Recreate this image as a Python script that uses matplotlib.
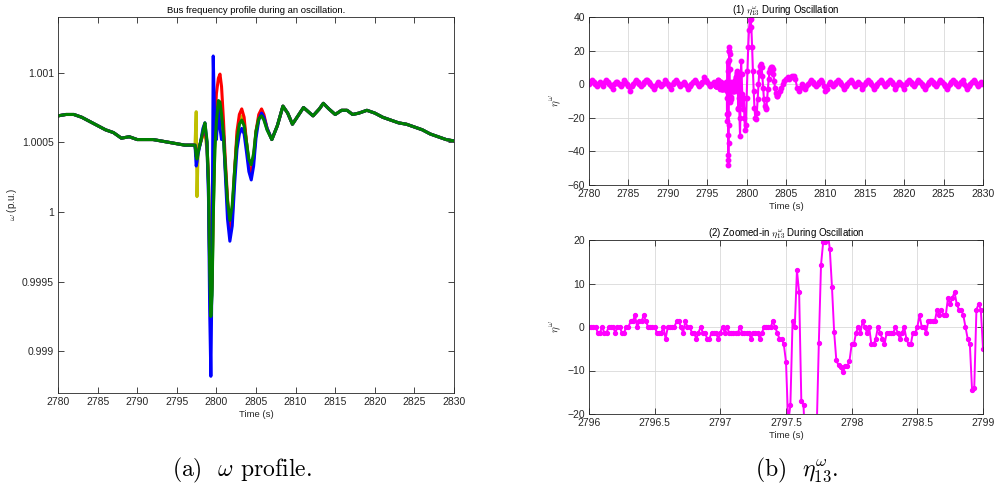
import numpy as np
import matplotlib
matplotlib.use("Agg")
import matplotlib.pyplot as plt
from matplotlib.ticker import FuncFormatter

plt.rcParams['font.family'] = ['Liberation Sans', 'DejaVu Sans']
plt.rcParams['mathtext.fontset'] = 'cm'

# ---------------- datos: perfil de frecuencia (a) ----------------
t_pre = [2780, 2781, 2782, 2783, 2784, 2785, 2786, 2787, 2788, 2789,
         2790, 2791, 2792, 2793, 2794, 2795, 2796, 2797]
w_pre = [1.00069, 1.00070, 1.00070, 1.00068, 1.00065, 1.00062, 1.00059, 1.00057, 1.00053, 1.00054,
         1.00052, 1.00052, 1.00052, 1.00051, 1.00050, 1.00049, 1.00048, 1.00048]

t_win = [2797.3, 2797.45, 2797.55, 2797.7, 2798.0, 2798.3, 2798.55, 2798.8, 2799.0, 2799.15,
         2799.3, 2799.45, 2799.6, 2799.8, 2800.0, 2800.25, 2800.45, 2800.65, 2800.9, 2801.1,
         2801.4, 2801.7, 2802.0, 2802.3, 2802.6, 2802.9, 2803.2, 2803.5, 2803.8, 2804.1,
         2804.4, 2804.7, 2805.0, 2805.35, 2805.7, 2806.0, 2806.4]
w_green = [1.00048, 1.00040, 1.00038, 1.00043, 1.00050, 1.00058, 1.00064, 1.00052, 1.00020, 0.99960,
           0.99925, 0.99940, 0.99995, 1.00045, 1.00065, 1.00080, 1.00079, 1.00070, 1.00055, 1.00035,
           1.00008, 0.99994, 1.00005, 1.00030, 1.00052, 1.00063, 1.00066, 1.00062, 1.00050, 1.00038,
           1.00034, 1.00042, 1.00058, 1.00067, 1.00069, 1.00066, 1.00059]
w_blue = [1.00048, 1.00033, 1.00036, 1.00042, 1.00050, 1.00060, 1.00064, 1.00050, 1.00010, 0.99930,
          0.99882, 0.99960, 1.00112, 1.00060, 1.00052, 1.00076, 1.00060, 1.00052, 1.00055, 1.00030,
          0.99995, 0.99979, 0.99990, 1.00020, 1.00045, 1.00056, 1.00060, 1.00056, 1.00043, 1.00029,
          1.00023, 1.00033, 1.00053, 1.00066, 1.00071, 1.00068, 1.00060]
w_red = [1.00048, 1.00040, 1.00040, 1.00044, 1.00050, 1.00056, 1.00058, 1.00050, 1.00025, 0.99965,
         0.99935, 0.99950, 1.00010, 1.00060, 1.00085, 1.00096, 1.00099, 1.00090, 1.00065, 1.00040,
         1.00010, 0.99988, 0.99998, 1.00030, 1.00058, 1.00070, 1.00074, 1.00068, 1.00050, 1.00033,
         1.00027, 1.00038, 1.00058, 1.00070, 1.00074, 1.00070, 1.00060]
w_olive = [1.00048, 1.00072, 1.00011, 1.00045, 1.00050, 1.00055, 1.00057, 1.00045, 1.00020, 0.99965,
           0.99932, 0.99945, 1.00000, 1.00045, 1.00062, 1.00072, 1.00070, 1.00065, 1.00052, 1.00033,
           1.00005, 0.99985, 0.99995, 1.00028, 1.00054, 1.00066, 1.00069, 1.00064, 1.00050, 1.00035,
           1.00028, 1.00038, 1.00057, 1.00068, 1.00072, 1.00068, 1.00060]
w_cyan = [1.00048, 1.00042, 1.00040, 1.00044, 1.00050, 1.00057, 1.00060, 1.00050, 1.00022, 0.99962,
          0.99930, 0.99945, 1.00000, 1.00048, 1.00068, 1.00078, 1.00076, 1.00068, 1.00054, 1.00034,
          1.00006, 0.99990, 1.00000, 1.00029, 1.00053, 1.00064, 1.00067, 1.00063, 1.00050, 1.00036,
          1.00030, 1.00040, 1.00057, 1.00067, 1.00070, 1.00067, 1.00059]

t_post = [2807.0, 2807.7, 2808.4, 2809.0, 2809.6, 2810.3, 2811.0, 2811.6, 2812.2, 2813.0,
          2813.5, 2814.2, 2815.0, 2815.8, 2816.5, 2817.2, 2818.0, 2819.0, 2820.0, 2821.0,
          2822.0, 2823.0, 2824.0, 2825.0, 2826.0, 2827.0, 2828.0, 2829.0, 2830.0]
w_post = [1.00052, 1.00062, 1.00076, 1.00071, 1.00063, 1.00069, 1.00075, 1.00072, 1.00069, 1.00074,
          1.00078, 1.00074, 1.00070, 1.00073, 1.00073, 1.00070, 1.00071, 1.00073, 1.00071, 1.00068,
          1.00066, 1.00064, 1.00063, 1.00061, 1.00059, 1.00056, 1.00054, 1.00052, 1.00051]

trazas = [('c', w_cyan), ((0.75, 0.75, 0), w_olive), ('r', w_red), ('b', w_blue), ((0, 0.5, 0), w_green)]

# ---------------- datos: eta (b) ----------------
q = 4.0 / 3.0   # paso de cuantizacion
pre_lv = [0, 1, 2, 1, 0, -1, 0, 1, 0, -1, 1, 2, 1, 0, -1, -2, 0, 1, 1, 0,
          -1, 0, 2, 1, 0, -1, -3, -1, 0, 1, 2, 1, 0, -1, 0, 1, 2, 2, 1, 0,
          -1, -2, -1, 0, 1, 0, -1, 0, 2, 1, 0, -1, -2, 0, 1, 2, 1, 0, -1, 0,
          1, 0, -1, -2, -1, 0, 1, 2, 1, 0, -1, 0, 1, 3, 2, 1, 0, -1, 0, 1]
post_lv = [0, -1, -2, -1, 0, 1, 2, 1, 0, -1, 0, 1, 2, 1, -1, -3, -2, 0, 1, 0,
           -1, 0, 1, 2, 1, 0, -1, -2, -1, 0, 1, 2, 1, 0, -1, 0, 1, 0, -2, -1,
           0, 1, 2, 1, 0, -1, -2, -1, 0, 1, 2, 1, 0, -1, 0, 1, 2, 1, 0, -2,
           -1, 0, 1, 0, -1, -2, 0, 1, 2, 1, 0, -1, 0, 1, 2, 1, 0, -1, -2, -1,
           0, 1, 2, 1, 0, -1, 0, 1, 2, 1, 0, -1, -2, -1, 0, 1, 2, 1, 0, -1,
           0, 1, 2, 0, -1, -2, -1, 0, 1, 2, 1, 0, -1, 0, 1, 0]

# 2796 - 2799 s a 60 muestras/s
eta_zoom = [0, 0, 0, 0, -1.3, -1.3, 0, -1.3, -1.3, 0, 0, 0, -1.3, 0, 0, -1.3, -1.3, 0, 0, 1.3,
            1.3, 2.7, 0, 1.3, 1.3, 2.7, 1.3, 0, 0, 0, 0, -1.3, -1.3, -1.3, 0, -2.7, 0, 0, 0, 0,
            1.3, 1.3, 0, -1.3, 1.3, 0, 0, -1.3, -1.3, -2.7, -1.3, 0, -1.3, -1.3, -2.7, -2.7, -1.3, -1.3, -1.3, -2.7,
            -1.3, 0, -1.3, 0, -1.3, -1.3, -1.3, -1.3, -1.3, 0, -1.3, -1.3, -1.3, -1.3, -2.7, -1.3, -1.3, -1.3, -2.7, -1.3,
            0, 0, 0, 0, 1.3, 0, -1.3, -2.7, -2.7, -4, -8, -22, -18, 1.3, 0, 13, 8, -17, -18, -30,
            -42, -48, -45, -35, -24, -3.7, 14.3, 19.6, 19.6, 22, 18, 9.2, -1.2, -7.7, -8.8, -9.3, -10.4, -9, -9, -7.8,
            -4, -4, -1.3, 0, -1.3, 1.3, 0, -1.3, 0, -4, -4, -2.7, 0, -1.3, -2.7, -4, -1.3, -1.3, -1.3, -1.3,
            0, -1.3, -2.7, -1.3, 0, -2.7, -4, -4, -1.3, -1.3, 0, 2.7, 0, 0, -1.3, 1.3, 1.3, 1.3, 1.3, 4,
            2.7, 4, 2.7, 2.7, 6.7, 5.3, 6.7, 8, 5.3, 4, 4, 2.7, 0, -2.7, -4, -14.5, -14, 4, 5.3, 4,
            -5]

t_osc = [2799.05, 2799.1, 2799.17, 2799.23, 2799.3, 2799.37, 2799.45, 2799.55, 2799.65, 2799.72,
         2799.8, 2799.9, 2800.0, 2800.1, 2800.2, 2800.3, 2800.4, 2800.5, 2800.6, 2800.7,
         2800.8, 2800.9, 2801.0, 2801.1, 2801.2, 2801.3, 2801.4, 2801.5, 2801.6, 2801.7,
         2801.8, 2801.9, 2802.0, 2802.1, 2802.2, 2802.3, 2802.4, 2802.5, 2802.6, 2802.7,
         2802.8, 2802.9, 2803.0, 2803.1, 2803.2, 2803.3, 2803.4, 2803.5, 2803.6, 2803.7,
         2803.8, 2803.9, 2804.0, 2804.2, 2804.4, 2804.6, 2804.8, 2805.0, 2805.2, 2805.4,
         2805.6, 2805.8, 2806.0, 2806.2, 2806.4, 2806.6, 2806.8]
eta_osc = [-8, -20, -31, -12, 14, 6, -6, -15, -8, -20,
           -27, -24, -8, 8, 22, 32, 38, 39, 34, 22,
           8, -4, -14, -20, -21, -17, -9, 0, 7, 11,
           12, 10, 5, -2, -9, -13, -15, -14, -9, -3,
           3, 7, 9, 10, 10, 9, 6, 2, -2, -5,
           -7, -7, -6, -4, -2, 0, 2, 3, 4, 3,
           4, 5, 5, 3, -2, -4, -2]

# ---------------- armado de series ----------------
t_zoom = 2796 + np.arange(len(eta_zoom)) / 60.0
t_q_pre = np.linspace(2780, 2795.8, len(pre_lv))
t_q_post = np.linspace(2807.0, 2830.0, len(post_lv))

t_eta = np.concatenate([t_q_pre, t_zoom, t_osc, t_q_post])
eta = np.concatenate([np.array(pre_lv) * q, eta_zoom, eta_osc, np.array(post_lv) * q])

t_w = np.concatenate([t_pre, t_win, t_post])

fig = plt.figure(figsize=(9.95, 4.96), dpi=100)
gris = '0.15'
magenta = (1, 0, 1)
fmt = FuncFormatter(lambda v, p: '%g' % v)


def estilo(ax, grid=False):
    ax.tick_params(direction='in', top=True, right=True, length=4, width=0.6,
                   labelsize=7.5, colors=gris, pad=3)
    for s in ax.spines.values():
        s.set_linewidth(0.6)
        s.set_color(gris)
    if grid:
        ax.grid(True, color='0.85', lw=0.6)
        ax.set_axisbelow(True)


# (a) perfil de omega
ax1 = fig.add_axes([58 / 995, 1 - 393 / 496, 396 / 995, 376 / 496])
for col, w in trazas:
    ax1.plot(t_w, np.concatenate([w_pre, w, w_post]), color=col, lw=2.2)
ax1.set_xlim(2780, 2830)
ax1.set_ylim(0.9987, 1.0014)
ax1.set_xticks(np.arange(2780, 2831, 5))
ax1.set_yticks([0.999, 0.9995, 1.0, 1.0005, 1.001])
ax1.yaxis.set_major_formatter(fmt)
ax1.set_title('Bus frequency profile during an oscillation.', fontsize=6.8, color='k', pad=3)
ax1.set_xlabel('Time (s)', fontsize=6.8, color=gris, labelpad=2)
ax1.set_ylabel(r'$\omega$ (p.u.)', fontsize=7, color=gris, labelpad=2)
estilo(ax1)

# (b1) eta completo
ax2 = fig.add_axes([589 / 995, 1 - 185 / 496, 394 / 995, 168 / 496])
ax2.plot(t_eta, eta, color=magenta, lw=1.5, marker='o', ms=3.2)
ax2.set_xlim(2780, 2830)
ax2.set_ylim(-60, 40)
ax2.set_xticks(np.arange(2780, 2831, 5))
ax2.set_yticks(np.arange(-60, 41, 20))
ax2.set_title(r'(1) $\eta^{\omega}_{13}$ During Oscillation', fontsize=7, color='k', pad=3)
ax2.set_xlabel('Time (s)', fontsize=6.8, color=gris, labelpad=2)
ax2.set_ylabel(r'$\eta^{\omega}$', fontsize=8, color=gris, labelpad=2)
estilo(ax2, grid=True)

# (b2) eta ampliado
ax3 = fig.add_axes([589 / 995, 1 - 414 / 496, 394 / 995, 174 / 496])
ax3.plot(t_zoom, eta_zoom, color=magenta, lw=1.4, marker='o', ms=2.8)
ax3.set_xlim(2796, 2799)
ax3.set_ylim(-20, 20)
ax3.set_xticks(np.arange(2796, 2799.01, 0.5))
ax3.set_yticks([-20, -10, 0, 10, 20])
ax3.xaxis.set_major_formatter(fmt)
ax3.set_title(r'(2) Zoomed-in $\eta^{\omega}_{13}$ During Oscillation', fontsize=7, color='k', pad=3)
ax3.set_xlabel('Time (s)', fontsize=6.8, color=gris, labelpad=2)
ax3.set_ylabel(r'$\eta^{\omega}$', fontsize=8, color=gris, labelpad=2)
estilo(ax3, grid=True)

# leyendas de las subfiguras
fig.text(242 / 995, 1 - 470 / 496, r'(a)  $\omega$ profile.', fontfamily='cmr10',
         fontsize=17, ha='center', va='center')
fig.text(797 / 995, 1 - 470 / 496, r'(b)  $\eta^{\omega}_{13}$.', fontfamily='cmr10',
         fontsize=17, ha='center', va='center')

fig.savefig('out.png', dpi=100)
